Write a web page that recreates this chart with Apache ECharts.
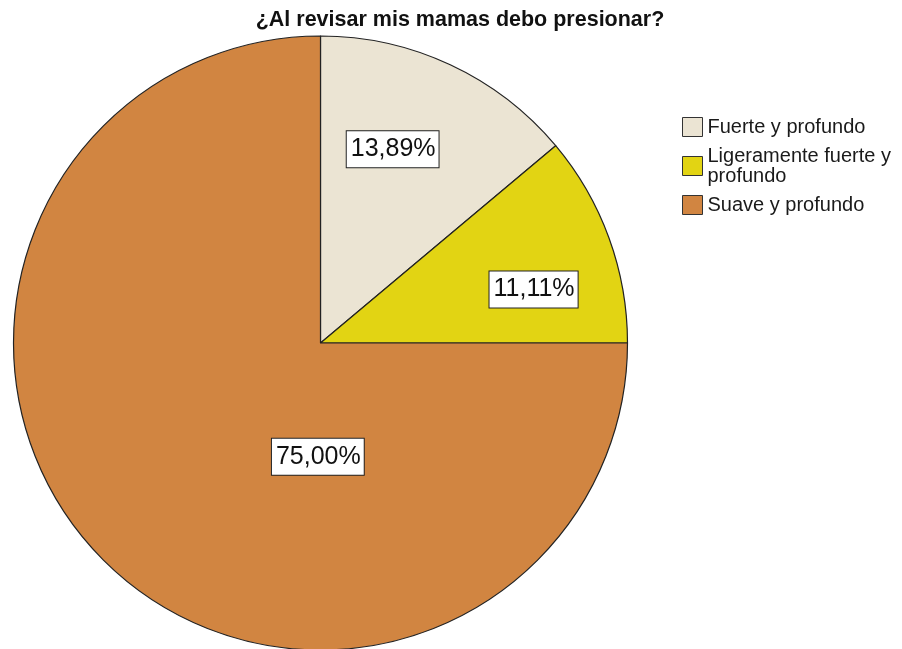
<!DOCTYPE html>
<html>
<head>
<meta charset="utf-8">
<title>¿Al revisar mis mamas debo presionar?</title>
<script src="https://cdn.jsdelivr.net/npm/echarts@6/dist/echarts.min.js"></script>
<style>
  html, body { margin: 0; padding: 0; background: #ffffff; }
  #chart { width: 902px; height: 649px; }
</style>
</head>
<body>
<div id="chart"></div>
<script>
// Answers and their share of respondents (%)
const categories = ['Fuerte y profundo', 'Ligeramente fuerte y profundo', 'Suave y profundo'];
const percentages = [13.89, 11.11, 75.00];
const titleText = '¿Al revisar mis mamas debo presionar?';

const sliceColors = ['#EBE4D3', '#E2D413', '#D18541'];
// nudges of each percentage box away from the slice's default inside spot
const labelShift = [[6, -52], [66, 0], [108, 3]];

const FONT = '"Liberation Sans", Arial, sans-serif';

const chart = echarts.init(document.getElementById('chart'), null, { renderer: 'canvas' });

const pieData = categories.map((name, i) => ({
  name: name,
  value: percentages[i],
  itemStyle: { color: sliceColors[i] },
  label: { offset: labelShift[i] }
}));

chart.setOption({
  backgroundColor: '#ffffff',
  animation: false,
  title: {
    text: titleText,
    left: 460,
    textAlign: 'center',
    top: 9,
    padding: 0,
    textStyle: { fontFamily: FONT, fontSize: 21.5, fontWeight: 'bold', color: '#111111' }
  },
  legend: {
    orient: 'vertical',
    left: 682,
    top: 117,
    padding: 0,
    itemGap: 9,
    itemWidth: 20,
    itemHeight: 19,
    itemTextGap: 4,
    icon: 'rect',
    data: categories,
    itemStyle: { borderColor: '#333333', borderWidth: 1 },
    textStyle: {
      fontFamily: FONT,
      fontSize: 20,
      lineHeight: 20,
      color: '#1a1a1a',
      width: 198,
      overflow: 'break'
    }
  },
  series: [{
    type: 'pie',
    center: [320.5, 343],
    radius: 307,
    startAngle: 90,
    clockwise: true,
    avoidLabelOverlap: false,
    emphasis: { disabled: true },
    itemStyle: { borderColor: '#222222', borderWidth: 1.2 },
    label: {
      show: true,
      position: 'inside',
      formatter: p => p.value.toFixed(2).replace('.', ',') + '%',
      fontFamily: FONT,
      fontSize: 25,
      lineHeight: 28,
      color: '#111111',
      backgroundColor: '#ffffff',
      borderColor: '#222222',
      borderWidth: 1,
      padding: [4, 3, 4, 4]
    },
    labelLine: { show: false },
    data: pieData
  }]
});
</script>
</body>
</html>
